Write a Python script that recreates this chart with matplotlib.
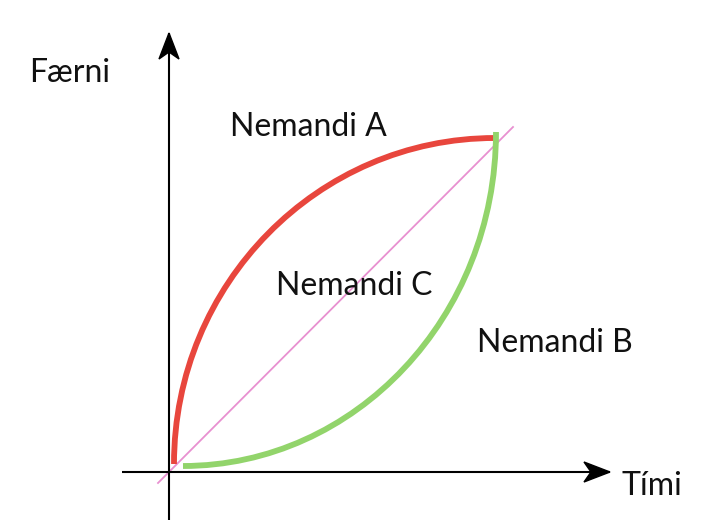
import matplotlib.pyplot as plt
from matplotlib.path import Path
from matplotlib.patches import PathPatch, Polygon

# Coordinates in a frame whose origin is the axis crossing (units ~ pixels)
AXIS_X = (-47, 441)   # horizontal axis extent
AXIS_Y = (-48, 439)   # vertical axis extent

# Bezier control points of the two learning curves
RED_PTS = [(5, 8), (5, 188), (149, 334), (326, 334)]
GREEN_PTS = [(14, 6), (186, 6), (327, 155), (327, 340)]
DIAG_X = [-11, 344]
DIAG_Y = [-11, 345]

LABELS = [
    ("Færni", -99, 399),
    ("Nemandi A", 139, 345),
    ("Nemandi C", 185, 186),
    ("Nemandi B", 386, 129),
    ("Tími", 483, -14),
]

RED = '#e8463d'
GREEN = '#92d46b'
PINK = '#e890d0'

fig = plt.figure(figsize=(7.13, 5.32), dpi=100)
ax = fig.add_axes([0, 0, 1, 1])
ax.set_xlim(-169, 544)
ax.set_ylim(-60, 472)
ax.axis('off')

# axes with dart-shaped heads
ax.plot(AXIS_X, [0, 0], color='black', lw=1.5, solid_capstyle='butt')
ax.plot([0, 0], AXIS_Y, color='black', lw=1.5, solid_capstyle='butt')
ax.add_patch(Polygon([(AXIS_X[1], 0), (AXIS_X[1] - 26, 10), (AXIS_X[1] - 19, 0),
                      (AXIS_X[1] - 26, -10)], closed=True, color='black'))
ax.add_patch(Polygon([(0, AXIS_Y[1]), (-10, AXIS_Y[1] - 26), (0, AXIS_Y[1] - 19),
                      (10, AXIS_Y[1] - 26)], closed=True, color='black'))

ax.plot(DIAG_X, DIAG_Y, color=PINK, lw=1.3, zorder=1)

codes = [Path.MOVETO, Path.CURVE4, Path.CURVE4, Path.CURVE4]
for pts, col in [(RED_PTS, RED), (GREEN_PTS, GREEN)]:
    ax.add_patch(PathPatch(Path(pts, codes), facecolor='none', edgecolor=col,
                           lw=4.2, capstyle='butt', zorder=2))

for txt, x, y in LABELS:
    ax.text(x, y, txt, ha='center', va='center', fontsize=23,
            family='Lato', color='#111111')

fig.savefig('out.png', dpi=100)
